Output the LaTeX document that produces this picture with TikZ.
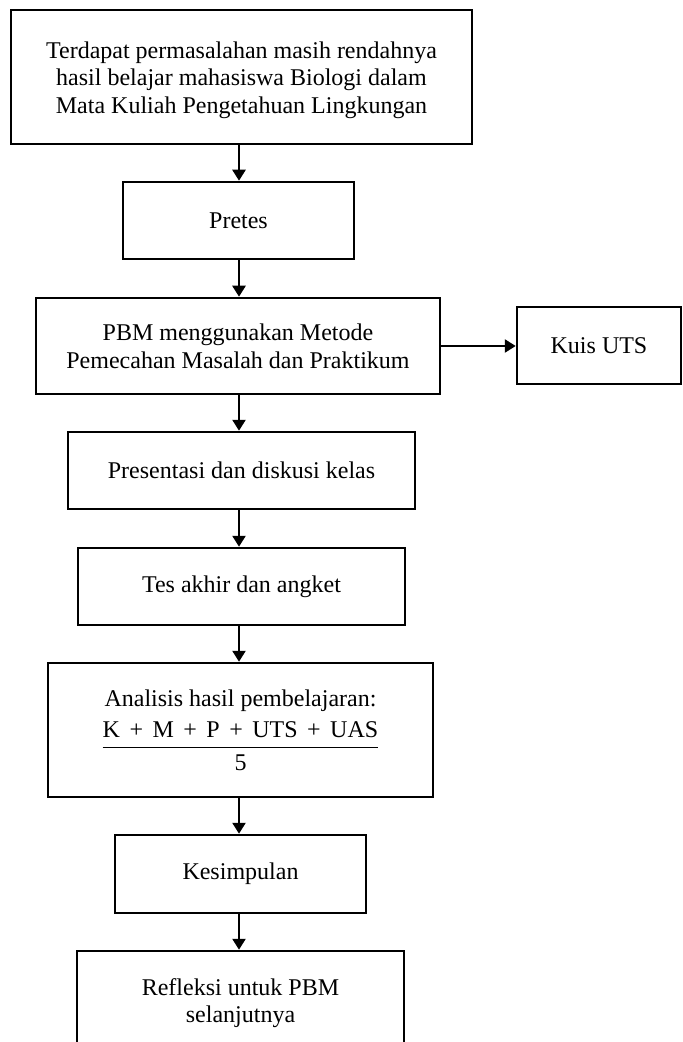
\documentclass[tikz,border=0pt]{standalone}
\usepackage{amsmath}
\usepackage{fontspec}
\setmainfont{Liberation Serif}
\usetikzlibrary{arrows.meta}
\newcommand\fplus{\ \hspace{1.75pt}+\hspace{1.75pt}\ }
\begin{document}
\begin{tikzpicture}[x=0.5pt,y=-0.5pt,
  box/.style={draw,line width=1.25pt,rectangle,inner sep=0pt,align=center,
    font=\fontsize{12}{13.8}\selectfont},
  arr/.style={line width=1.25pt,-{Triangle[length=5.5pt,width=6.5pt]}}]
\useasboundingbox (0,0) rectangle (682,1042);
\clip (0,0) rectangle (682,1042);
\coordinate (ax) at (239,0);
\node[box,minimum width=230.5pt,minimum height=67pt] (b1) at (241.5,77)
  {\rule{0pt}{11.5pt}Terdapat permasalahan masih rendahnya\\hasil belajar mahasiswa Biologi dalam\\Mata Kuliah Pengetahuan Lingkungan};
\node[box,minimum width=115.5pt,minimum height=38.5pt] (b2) at (238.5,220.5) {Pretes};
\node[box,minimum width=202pt,minimum height=48pt] (b3) at (238,346)
  {PBM menggunakan Metode\\Pemecahan Masalah dan Praktikum};
\node[box,minimum width=82pt,minimum height=38.5pt] (kuis) at (599,345.5) {Kuis UTS};
\node[box,minimum width=173.5pt,minimum height=38.5pt] (b4) at (241.5,470.5) {Presentasi dan diskusi kelas};
\node[box,minimum width=163.5pt,minimum height=38.5pt] (b5) at (241.5,586.5) {Tes akhir dan angket};
\node[box,minimum width=192.5pt,minimum height=67pt] (b6) at (240.5,730)
  {Analisis hasil pembelajaran:\\[4pt]$\dfrac{\text{K\fplus M\fplus P\fplus UTS\fplus UAS}}{\text{5}}$};
\node[box,minimum width=125.5pt,minimum height=39pt] (b7) at (240.5,874) {Kesimpulan};
\node[box,minimum width=163.5pt,minimum height=52pt] (b8) at (240.5,1003)
  {Refleksi untuk PBM\\selanjutnya};
\draw[arr] (b1.south -| ax) -- (b2.north -| ax);
\draw[arr] (b2.south -| ax) -- (b3.north -| ax);
\draw[arr] (b3.east) -- (b3.east -| kuis.west);
\draw[arr] (b3.south -| ax) -- (b4.north -| ax);
\draw[arr] (b4.south -| ax) -- (b5.north -| ax);
\draw[arr] (b5.south -| ax) -- (b6.north -| ax);
\draw[arr] (b6.south -| ax) -- (b7.north -| ax);
\draw[arr] (b7.south -| ax) -- (b8.north -| ax);
\end{tikzpicture}
\end{document}
